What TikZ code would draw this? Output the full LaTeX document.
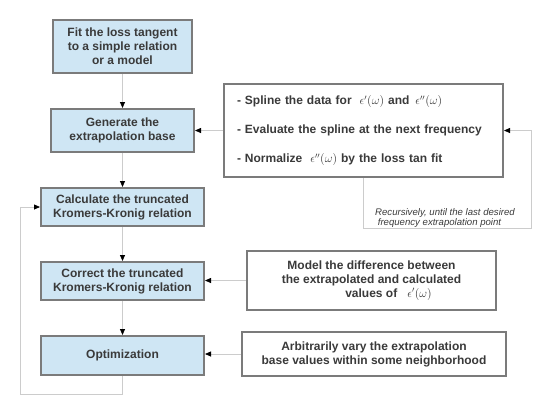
\documentclass[tikz,border=0pt]{standalone}
\usepackage{fontspec}
\setmainfont{Liberation Sans}
\usetikzlibrary{arrows.meta}
\definecolor{boxfill}{HTML}{CFE6F4}
\definecolor{boxline}{HTML}{7B7B7B}
\definecolor{txt}{HTML}{3A3A3A}
\definecolor{wire}{HTML}{CCCCCC}
\newcommand{\epsr}{\epsilon'(\omega)}
\newcommand{\epsi}{\epsilon''(\omega)}

\begin{document}
\begin{tikzpicture}[x=1pt,y=-1pt,
  stage/.style={draw=boxline,line width=2pt,fill=boxfill,align=center,inner sep=0pt,
    text=txt,font=\fontsize{12}{14}\selectfont\bfseries},
  note/.style={draw=boxline,line width=2pt,fill=white,align=center,inner sep=0pt,
    text=txt,font=\fontsize{12}{14}\selectfont\bfseries},
  link/.style={draw=wire,line width=0.8pt,-{Triangle[length=6pt,width=5pt,black]}}]
  \useasboundingbox (0,0) rectangle (552,413);
  \node[stage,minimum width=139,minimum height=53] (fit)  at (122.5, 46.5)
   {Fit the loss tangent\\to a simple relation\\or a model};
  \node[stage,minimum width=143,minimum height=43] (gen)  at (122.5,130.5)
   {Generate the\\extrapolation base};
  \node[stage,minimum width=163,minimum height=38] (calc) at (122.5,207.0)
   {Calculate the truncated\\Kromers-Kronig relation};
  \node[stage,minimum width=163,minimum height=38] (corr) at (122.5,281.0)
   {Correct the truncated\\Kromers-Kronig relation};
  \node[stage,minimum width=163,minimum height=39] (opt)  at (122.5,355.5)
   {Optimization};
  \node[note,minimum width=279,minimum height=93,inner xsep=13pt,text width=253pt,
    align=left,font=\fontsize{12}{29}\selectfont\bfseries] (spline) at (363.5,130.5)
   {- Spline the data for \ {\large$\epsr$} and \,{\large$\epsi$}\\
    - Evaluate the spline at the next frequency\\
    - Normalize \ {\large$\epsi$} by the loss tan fit};
  \node[note,minimum width=249,minimum height=59] (model) at (371.5,280.5)
   {Model the difference between\\the extrapolated and calculated\\\hspace{34pt}values of \ \ $\epsr$};
  \node[note,minimum width=264,minimum height=44] (vary)  at (374.0,354.0)
   {Arbitrarily vary the extrapolation\\base values within some neighborhood};
  \node[anchor=north west,align=left,inner sep=0pt,text=txt,
    font=\fontsize{9.6}{10.5}\selectfont\itshape] (recnote) at (375,208)
   {Recursively, until the last desired\\\ frequency extrapolation point};
  \coordinate (recur) at (531,228);
  \coordinate (back)  at ( 20,394);
  \draw[link] (fit)  -- (gen);
  \draw[link] (gen)  -- (calc);
  \draw[link] (calc) -- (corr);
  \draw[link] (corr) -- (opt);
  \draw[link] (spline) -- (gen);
  \draw[link] (model.west) -- (model.west -| corr.east);
  \draw[link] (vary.west)  -- (vary.west -| opt.east);
  \draw[link] (spline.south) |- (recur) |- (spline.east);
  \draw[link] (opt.south) |- (back) |- (calc.west);
\end{tikzpicture}
\end{document}
